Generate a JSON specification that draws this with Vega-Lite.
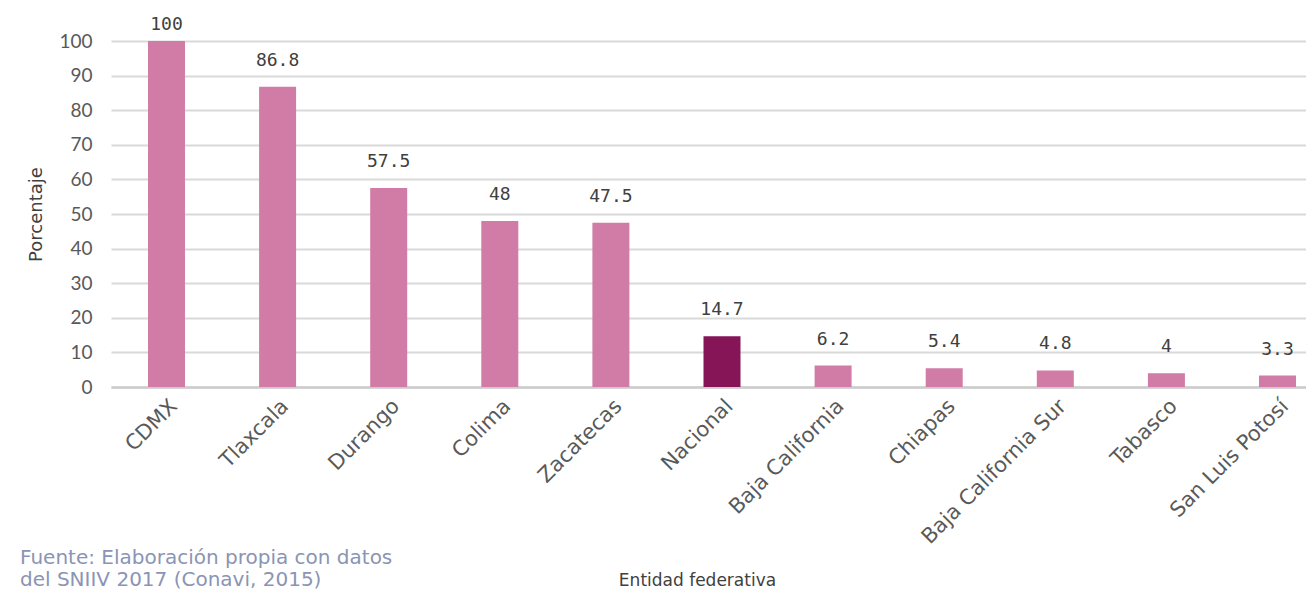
{
  "$schema": "https://vega.github.io/schema/vega-lite/v6.json",
  "autosize": "none",
  "width": 1222,
  "height": 346,
  "padding": {"left": 111, "top": 41, "right": 0, "bottom": 205},
  "background": "white",
  "data": {
    "values": [
      {"entidad": "CDMX", "pct": 100, "grupo": "estado"},
      {"entidad": "Tlaxcala", "pct": 86.8, "grupo": "estado"},
      {"entidad": "Durango", "pct": 57.5, "grupo": "estado"},
      {"entidad": "Colima", "pct": 48, "grupo": "estado"},
      {"entidad": "Zacatecas", "pct": 47.5, "grupo": "estado"},
      {"entidad": "Nacional", "pct": 14.7, "grupo": "nacional"},
      {"entidad": "Baja California", "pct": 6.2, "grupo": "estado"},
      {"entidad": "Chiapas", "pct": 5.4, "grupo": "estado"},
      {"entidad": "Baja California Sur", "pct": 4.8, "grupo": "estado"},
      {"entidad": "Tabasco", "pct": 4, "grupo": "estado"},
      {"entidad": "San Luis Potosí", "pct": 3.3, "grupo": "estado"}
    ]
  },
  "title": {
    "text": ["Fuente: Elaboración propia con datos", "del SNIIV 2017 (Conavi, 2015)"],
    "orient": "bottom",
    "anchor": "start",
    "frame": "group",
    "dx": -91,
    "offset": -40,
    "font": "DejaVu Sans",
    "fontSize": 20,
    "fontWeight": "normal",
    "color": "#8a94b4",
    "lineHeight": 22
  },
  "encoding": {
    "x": {
      "field": "entidad",
      "type": "nominal",
      "sort": null,
      "scale": {"paddingInner": 0.667, "paddingOuter": 0.333},
      "axis": {
        "title": "Entidad federativa",
        "titleFont": "DejaVu Sans",
        "titleFontSize": 17,
        "titleFontWeight": "normal",
        "titleColor": "#404040",
        "titleX": 586,
        "titleY": 202,
        "titleBaseline": "bottom",
        "labelAngle": -45,
        "labelFont": "DejaVu Sans",
        "labelFontSize": 21,
        "labelColor": "#595959",
        "labelPadding": 8,
        "labelLimit": 400,
        "ticks": false,
        "domainColor": "#cccccc",
        "domainWidth": 2.5,
        "grid": false
      }
    },
    "y": {
      "field": "pct",
      "type": "quantitative",
      "scale": {"domain": [0, 100]},
      "axis": {
        "title": "Porcentaje",
        "titleFont": "DejaVu Sans",
        "titleFontSize": 18,
        "titleFontWeight": "normal",
        "titleColor": "#404040",
        "titlePadding": 13,
        "values": [0, 10, 20, 30, 40, 50, 60, 70, 80, 90, 100],
        "labelFont": "Lato",
        "labelFontSize": 19,
        "labelColor": "#595959",
        "labelPadding": 19,
        "ticks": false,
        "domain": false,
        "gridColor": "#d9d9d9",
        "gridWidth": 2
      }
    }
  },
  "layer": [
    {
      "mark": {"type": "bar"},
      "encoding": {
        "color": {
          "field": "grupo",
          "type": "nominal",
          "scale": {"domain": ["estado", "nacional"], "range": ["#d17ca6", "#851557"]},
          "legend": null
        }
      }
    },
    {
      "transform": [{"filter": "datum.pct < 100"}],
      "mark": {"type": "text", "baseline": "bottom", "dy": -17, "font": "DejaVu Sans Mono", "fontSize": 18, "color": "#404040"},
      "encoding": {"text": {"field": "pct", "type": "quantitative"}}
    },
    {
      "transform": [{"filter": "datum.pct >= 100"}],
      "mark": {"type": "text", "baseline": "bottom", "dy": -7, "font": "DejaVu Sans Mono", "fontSize": 18, "color": "#404040"},
      "encoding": {"text": {"field": "pct", "type": "quantitative"}}
    }
  ],
  "config": {"view": {"stroke": null}}
}
